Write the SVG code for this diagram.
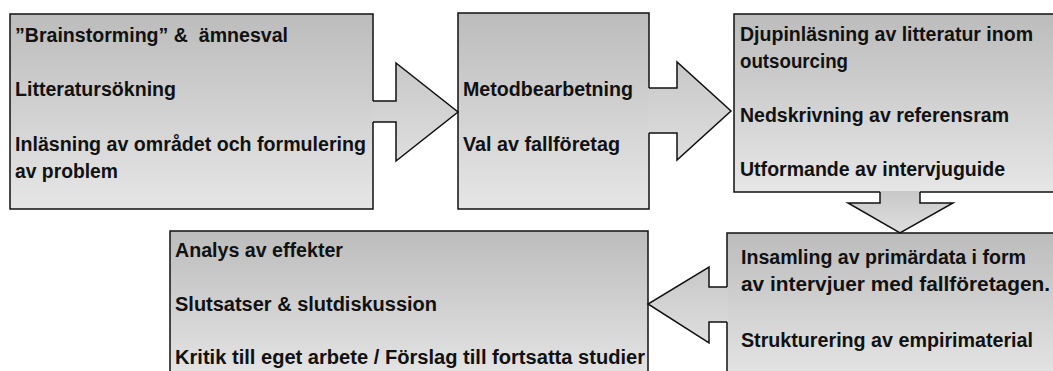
<svg xmlns="http://www.w3.org/2000/svg" width="1053" height="371" viewBox="0 0 1053 371">
  <defs>
    <linearGradient id="fillGrad" x1="0" y1="0" x2="0" y2="1">
      <stop offset="0" stop-color="#bcbcbc"/>
      <stop offset="1" stop-color="#e6e6e6"/>
    </linearGradient>
    <linearGradient id="arrowGrad" x1="0" y1="0" x2="0" y2="1">
      <stop offset="0" stop-color="#c8c8c8"/>
      <stop offset="1" stop-color="#dedede"/>
    </linearGradient>
    <style>
      .box { fill: url(#fillGrad); stroke: #111; stroke-width: 1.5; }
      .arrow-fill { fill: url(#arrowGrad); stroke: none; }
      .arrow-line { fill: none; stroke: #111; stroke-width: 1.5; stroke-linejoin: miter; }
      .label { font-family: "Liberation Sans", Arial, sans-serif; font-weight: bold; font-size: 20px; fill: #111; }
    </style>
  </defs>

  <rect width="1053" height="371" fill="#ffffff"/>

  <!-- Step 1 -->
  <g id="step-start">
    <rect class="box" x="10" y="14" width="363" height="195"/>
    <text class="label" x="15" y="42" xml:space="preserve" textLength="273" lengthAdjust="spacingAndGlyphs">”Brainstorming” &amp;  ämnesval</text>
    <text class="label" x="15" y="96" textLength="161" lengthAdjust="spacingAndGlyphs">Litteratursökning</text>
    <text class="label" x="15" y="151" textLength="351" lengthAdjust="spacingAndGlyphs">Inläsning av området och formulering</text>
    <text class="label" x="15" y="178" textLength="103" lengthAdjust="spacingAndGlyphs">av problem</text>
  </g>

  <!-- Step 2 -->
  <g id="step-method">
    <rect class="box" x="458" y="13" width="191" height="196"/>
    <text class="label" x="463" y="96" textLength="170" lengthAdjust="spacingAndGlyphs">Metodbearbetning</text>
    <text class="label" x="463" y="151" textLength="157" lengthAdjust="spacingAndGlyphs">Val av fallföretag</text>
  </g>

  <!-- Step 3 -->
  <g id="step-theory">
    <rect class="box" x="734" y="14" width="330" height="178"/>
    <text class="label" x="740" y="41" textLength="293" lengthAdjust="spacingAndGlyphs">Djupinläsning av litteratur inom</text>
    <text class="label" x="740" y="68" textLength="108" lengthAdjust="spacingAndGlyphs">outsourcing</text>
    <text class="label" x="740" y="122" textLength="269" lengthAdjust="spacingAndGlyphs">Nedskrivning av referensram</text>
    <text class="label" x="740" y="176" textLength="265" lengthAdjust="spacingAndGlyphs">Utformande av intervjuguide</text>
  </g>

  <!-- Step 4 -->
  <g id="step-empirics">
    <rect class="box" x="727" y="233" width="340" height="150"/>
    <text class="label" x="741" y="264" textLength="285" lengthAdjust="spacingAndGlyphs">Insamling av primärdata i form</text>
    <text class="label" x="741" y="291" textLength="309" lengthAdjust="spacingAndGlyphs">av intervjuer med fallföretagen.</text>
    <text class="label" x="741" y="347" textLength="292" lengthAdjust="spacingAndGlyphs">Strukturering av empirimaterial</text>
  </g>

  <!-- Step 5 -->
  <g id="step-analysis">
    <rect class="box" x="170" y="231" width="478" height="152"/>
    <text class="label" x="175" y="257" textLength="168" lengthAdjust="spacingAndGlyphs">Analys av effekter</text>
    <text class="label" x="175" y="311" textLength="262" lengthAdjust="spacingAndGlyphs">Slutsatser &amp; slutdiskussion</text>
    <text class="label" x="175" y="364" textLength="470" lengthAdjust="spacingAndGlyphs">Kritik till eget arbete / Förslag till fortsatta studier</text>
  </g>

  <!-- Block arrows between the steps -->
  <g id="connectors">
    <polygon class="arrow-fill" points="372,101 396,101 396,63 458,112 396,161 396,122 372,122"/>
    <polyline class="arrow-line" points="373,101 396,101 396,63 458,112 396,161 396,122 373,122"/>

    <polygon class="arrow-fill" points="648,88 677,88 677,62 731,111 677,160 677,133 648,133"/>
    <polyline class="arrow-line" points="649,88 677,88 677,62 731,111 677,160 677,133 649,133"/>

    <polygon class="arrow-fill" points="880,191 920,191 920,203 953,203 900,233 848,203 880,203"/>
    <polyline class="arrow-line" points="880,192 880,203 848,203 900,233 953,203 920,203 920,192"/>

    <polygon class="arrow-fill" points="728,287 709,287 709,267 648,304 709,343 709,322 728,322"/>
    <polyline class="arrow-line" points="727,287 709,287 709,267 648,304 709,343 709,322 727,322"/>
  </g>
</svg>
